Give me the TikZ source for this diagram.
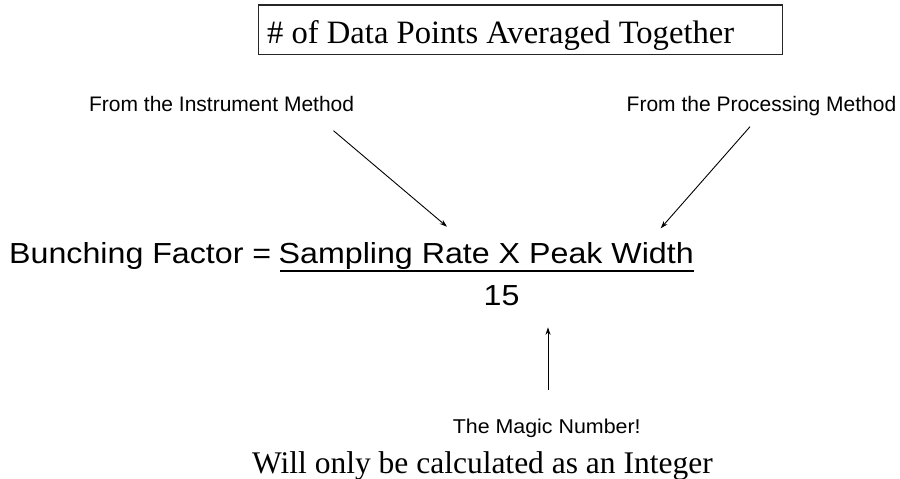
\documentclass[tikz,border=0pt]{standalone}
\usepackage{fontspec}
\setmainfont{Liberation Serif}
\newfontfamily\arialfont{Liberation Sans}
\usetikzlibrary{arrows.meta}
\tikzset{
  serifbig/.style={inner sep=0pt, font=\fontsize{32.6}{36}\selectfont},
  sansmid/.style={inner sep=0pt, font=\arialfont\fontsize{21}{25}\selectfont},
  sansbig/.style={inner sep=0pt, font=\arialfont\fontsize{29}{34}\selectfont},
  pointer/.style={line width=0.9pt, -{Stealth[length=7.5pt,width=5pt]}},
  framebox/.style={draw=black!85, line width=1.3pt}
}
\newcommand{\widen}[1]{\scalebox{1.11}[1]{#1}}
\begin{document}
\begin{tikzpicture}[x=1pt,y=-1pt]
\useasboundingbox[fill=white] (0,0) rectangle (900,479);
% top box
\draw[framebox] (258.3,5) rectangle (782.7,54.3);
\node[serifbig, anchor=base west] (title) at (267,43) {\# of Data Points Averaged Together};
% source labels
\node[sansmid, anchor=base] (instr) at (221.6,111) {From the Instrument Method};
\node[sansmid, anchor=base] (proc) at (761.5,111) {From the Processing Method};
% formula
\node[sansbig, anchor=base west] (lhs) at (9,263.3) {\widen{Bunching Factor =}};
\node[sansbig, anchor=base west] (num) at (278.5,263.3) {\widen{Sampling Rate X Peak Width}};
\draw[line width=2pt] ([yshift=-7.4pt,xshift=1.5pt]num.base west) -- ([yshift=-7.4pt]num.base east);
\node[sansbig, anchor=base] (den) at (501.5,305) {\widen{15}};
% magic number
\node[inner sep=0pt, anchor=base, font=\arialfont\fontsize{20}{23}\selectfont] (magic) at (546.75,433) {\scalebox{1.07}[1]{The Magic Number!}};
\node[inner sep=0pt, font=\fontsize{31.5}{36}\selectfont, anchor=base west] (integer) at (252,473.3) {Will only be calculated as an Integer};
% arrow endpoints
\coordinate (a1s) at (333.5,130.7);
\coordinate (a1e) at (447,226.7);
\coordinate (a2s) at (750,126.7);
\coordinate (a2e) at (660.7,228.3);
\coordinate (a3s) at (548,390);
\coordinate (a3e) at (548,327.3);
\draw[pointer] (a1s) -- (a1e);
\draw[pointer] (a2s) -- (a2e);
\draw[pointer] (a3s) -- (a3e);
\end{tikzpicture}
\end{document}
